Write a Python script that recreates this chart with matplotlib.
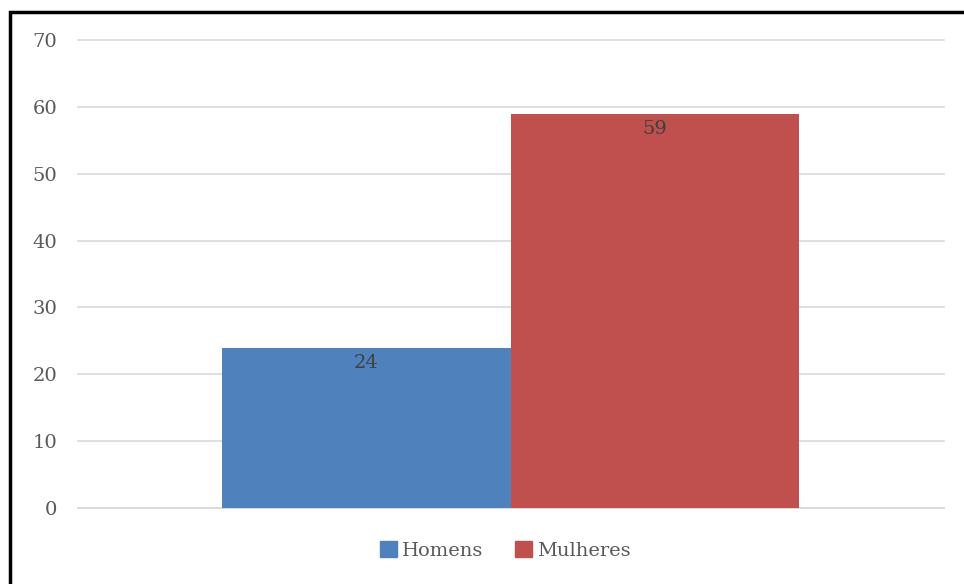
import matplotlib.pyplot as plt
import matplotlib.patches as mpatches
import numpy as np

series = ["Homens", "Mulheres"]
values = [24, 59]
colors = ["#4F81BD", "#C0504D"]
yticks = [0, 10, 20, 30, 40, 50, 60, 70]

plt.rcParams['font.family'] = ['DejaVu Serif']

fig = plt.figure(figsize=(9.64, 5.84), dpi=100)
ax = fig.add_axes([0.0809, 0.130, 0.898, 0.8015])

x = np.array([-0.5, 0.5])
bars = ax.bar(x, values, width=1.0, color=colors, label=series, zorder=3)
for xi, v in zip(x, values):
    ax.text(xi, v - 1.0, str(v), ha='center', va='top', fontsize=14, color='#404040', zorder=4)

ax.set_xlim(-1.5, 1.5)
ax.set_ylim(0, 70)
ax.set_yticks(yticks)
ax.set_xticks([])
ax.grid(axis='y', color='#D9D9D9', linewidth=1.2, zorder=0)
for gl in ax.get_ygridlines():
    gl.set_clip_on(False)
for s in ['top', 'right', 'left']:
    ax.spines[s].set_visible(False)
ax.spines['bottom'].set_color('#D9D9D9')
ax.spines['bottom'].set_linewidth(1.2)
ax.tick_params(axis='y', length=0, pad=15, labelsize=14, labelcolor='#595959')

handles = [mpatches.Patch(color=c, label=l) for c, l in zip(colors, series)]
fig.legend(handles=handles, loc='center', bbox_to_anchor=(0.524, 0.058), ncol=2,
           frameon=False, fontsize=14, labelcolor='#595959',
           handlelength=0.9, handleheight=0.9, handletextpad=0.25, columnspacing=1.6)

# black frame around the chart
frame = mpatches.Rectangle((9.5 / 964, -0.05), 1.1, 1 - 12 / 584 + 0.05,
                           transform=fig.transFigure, fill=False,
                           edgecolor='black', linewidth=2.5, clip_on=False)
fig.patches.append(frame)

fig.savefig('out.png', dpi=100)
